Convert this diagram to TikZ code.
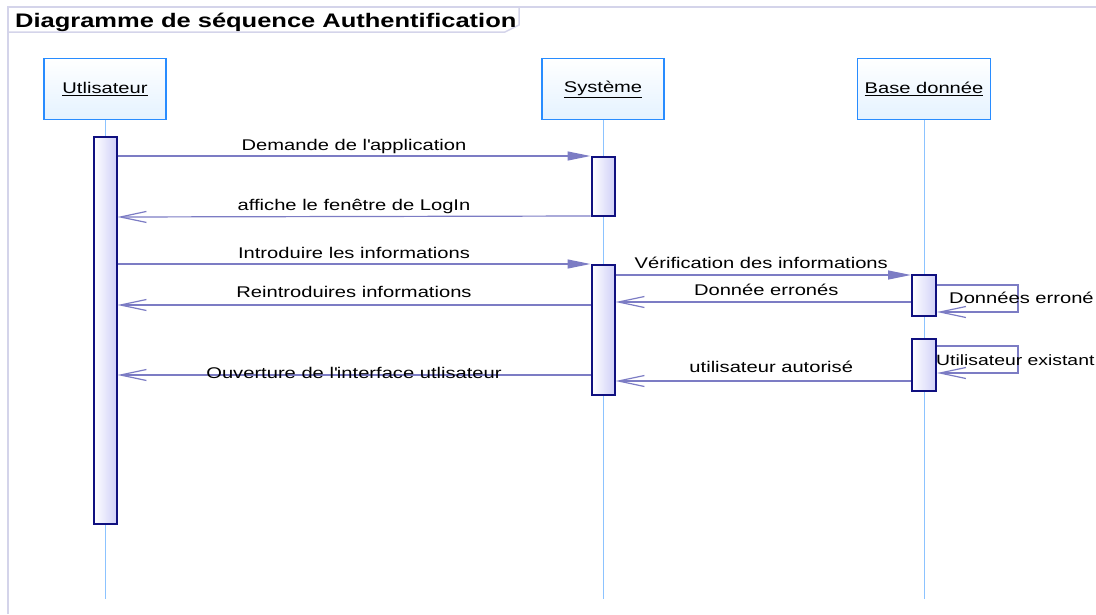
\documentclass[tikz,border=0pt]{standalone}
\usepackage{fontspec}
\setmainfont{Liberation Sans}[FakeStretch=1.3]
\usetikzlibrary{arrows.meta}
\definecolor{msgc}{RGB}{124,124,196}
\definecolor{actline}{RGB}{16,16,128}
\definecolor{actfill}{RGB}{208,208,248}
\definecolor{headline}{RGB}{40,140,255}
\definecolor{headfill}{RGB}{228,242,255}
\definecolor{lifec}{RGB}{140,195,255}
\definecolor{framec}{RGB}{212,212,234}
\tikzset{
  head/.style={draw=headline, line width=1.5pt, top color=white, bottom color=headfill,
    minimum height=61pt, inner sep=0pt, font=\fontsize{15.5}{18}\selectfont},
  life/.style={draw=lifec, line width=0.8pt},
  act/.style={draw=actline, line width=2pt, left color=white, right color=actfill,
    minimum width=23pt, inner sep=0pt, anchor=north},
  msg/.style={draw=msgc, line width=1.2pt},
  callmsg/.style={msg, -{Triangle[length=23pt,width=9pt]}},
  retmsg/.style={msg, -{Straight Barb[length=26pt,width=11pt]}},
  lbl/.style={font=\fontsize{15.5}{18}\selectfont, inner sep=0pt, anchor=base},
  framebox/.style={draw=framec, line width=1.5pt}
}
\begin{document}
\begin{tikzpicture}[x=1pt,y=-1pt]
\useasboundingbox (0,0) rectangle (1096,614);

% frame and its title tab
\draw[framebox] (8,614) -- (8,7) -- (1096,7);
\draw[framebox] (8,32) -- (505,32) -- (519,25) -- (519,7);
\node[anchor=base west, inner sep=0pt, font=\bfseries\fontsize{19.6}{22}\selectfont]
  (title) at (15,27) {Diagramme de séquence Authentification};

% participants
\node[head, minimum width=122pt] (u) at (105,89) {\underline{Utlisateur}};
\node[head, minimum width=122pt] (s) at (603,89) {\underline{Système}};
\node[head, minimum width=133pt] (b) at (924,89) {\underline{Base donnée}};

% lifelines
\coordinate (uend) at (105,599);
\coordinate (send) at (603,599);
\coordinate (bend) at (924,599);
\draw[life] (u.south) -- (uend);
\draw[life] (s.south) -- (send);
\draw[life] (b.south) -- (bend);

% activation bars
\node[act, minimum height=387pt] (ua) at (105,136) {};
\node[act, minimum height=59pt] (sa1) at (603,156) {};
\node[act, minimum height=130pt] (sa2) at (603,264) {};
\node[act, minimum width=24pt, minimum height=41pt] (ba1) at (924,274) {};
\node[act, minimum width=24pt, minimum height=52pt] (ba2) at (924,338) {};

% messages between Utlisateur and Système
\draw[callmsg] (ua.east |- sa1.north) -- (sa1.north west)
  node[lbl, midway, yshift=6pt] (l1) {Demande de l\textquotesingle application};
\draw[retmsg] ([yshift=1pt]sa1.south west) -- (ua.east |- sa1.south)
  node[lbl, midway, yshift=6pt] (l2) {affiche le fenêtre de LogIn};
\draw[callmsg] (ua.east |- sa2.north) -- (sa2.north west)
  node[lbl, midway, yshift=6pt] (l3) {Introduire les informations};
\draw[retmsg] ([yshift=-41pt]sa2.north west) -- ([yshift=-41pt]ua.east |- sa2.north)
  node[lbl, midway, yshift=8pt] (l4) {Reintroduires informations};
\draw[retmsg] ([yshift=-111pt]sa2.north west) -- ([yshift=-111pt]ua.east |- sa2.north)
  node[lbl, midway, yshift=-3pt] (l5) {Ouverture de l\textquotesingle interface utlisateur};

% messages between Système and Base donnée
\draw[callmsg] ([yshift=-1pt]sa2.east |- ba1.north) -- ([yshift=-1pt]ba1.north west)
  node[lbl, midway, xshift=-2pt, yshift=7pt] (l6) {Vérification des informations};
\draw[retmsg] ([yshift=-28pt]ba1.north west) -- ([yshift=-28pt]sa2.east |- ba1.north)
  node[lbl, midway, xshift=3pt, yshift=7pt] (l7) {Donnée erronés};
\draw[retmsg] ([yshift=-43pt]ba2.north west) -- ([yshift=-43pt]sa2.east |- ba2.north)
  node[lbl, midway, xshift=8pt, yshift=9pt] (l8) {utilisateur autorisé};

% self messages on Base donnée
\draw[retmsg] ([yshift=-11pt]ba1.north east) -| ([xshift=81pt,yshift=-38pt]ba1.north east)
  -- ([yshift=-38pt]ba1.north east);
\node[lbl, anchor=base west] (l9) at ([xshift=12pt,yshift=-29pt]ba1.north east) {Données erroné};
\draw[retmsg] ([yshift=-8pt]ba2.north east) -| ([xshift=81pt,yshift=-35pt]ba2.north east)
  -- ([yshift=-35pt]ba2.north east);
\node[lbl, anchor=base west, font=\fontsize{14.9}{18}\selectfont] (l10)
  at ([xshift=-1pt,yshift=-27pt]ba2.north east) {Utilisateur existant};
\end{tikzpicture}
\end{document}
